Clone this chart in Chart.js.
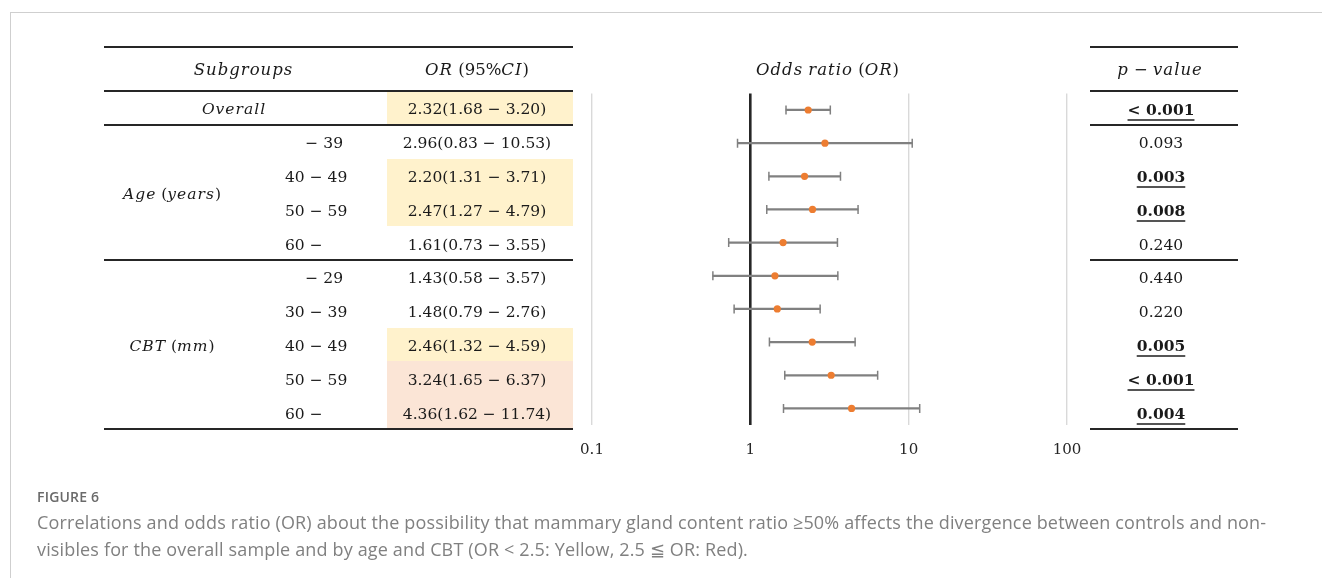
<!DOCTYPE html>
<html>
<head>
<meta charset="utf-8">
<script src="https://cdn.jsdelivr.net/npm/chart.js@4/dist/chart.umd.min.js"></script>
<style>
  html,body{margin:0;padding:0;background:#fff;}
  body{width:1322px;height:578px;overflow:hidden;position:relative;font-family:'DejaVu Serif',serif;color:#1a1a1a;}
  #frame{position:absolute;left:10px;top:12px;right:-2px;bottom:-2px;border-top:1px solid #cfcfcf;border-left:1px solid #cfcfcf;}
  #wrap{position:absolute;left:0;top:0;width:1322px;height:578px;}
  .cell{position:absolute;display:flex;align-items:center;white-space:pre;font-size:15.5px;}
  .cell > span{position:relative;top:1.5px;}
  .head{font-size:16.5px;}
  .cell i{font-style:italic;letter-spacing:1px;}
  .rule{position:absolute;height:2px;background:#262626;}
  .sig{font-weight:bold;text-decoration:underline;text-underline-offset:4px;text-decoration-thickness:1.5px;text-decoration-color:#555;}
  #caption{position:absolute;left:37px;top:485px;width:1280px;font-family:'Open Sans',sans-serif;color:#808080;}
  #figlabel{font-size:14px;font-weight:600;color:#6a6a6a;line-height:24px;letter-spacing:0.2px;}
  #captext{font-size:18px;line-height:27px;letter-spacing:0.15px;}
</style>
</head>
<body>
<div id="frame"></div>
<div id="wrap"><canvas id="c" width="1322" height="578"></canvas></div>
<div id="table"></div>
<div id="caption">
  <div id="figlabel">FIGURE 6</div>
  <div id="captext">Correlations and odds ratio (OR) about the possibility that mammary gland content ratio ≥50% affects the divergence between controls and non-<br>visibles for the overall sample and by age and CBT (OR &lt; 2.5: Yellow, 2.5 ≦ OR: Red).</div>
</div>
<script>
// ---------------- data ----------------
const rowKeys = ['overall','age-39','age40-49','age50-59','age60-','cbt-29','cbt30-39','cbt40-49','cbt50-59','cbt60-'];
const groupLabels = ['Overall', 'Age (years)', 'CBT (mm)'];
const groupRows = [1, 4, 5];
const subLabels = ['', '− 39', '40 − 49', '50 − 59', '60 −', '− 29', '30 − 39', '40 − 49', '50 − 59', '60 −'];
const orValues = [2.32, 2.96, 2.20, 2.47, 1.61, 1.43, 1.48, 2.46, 3.24, 4.36];
const ciLow    = [1.68, 0.83, 1.31, 1.27, 0.73, 0.58, 0.79, 1.32, 1.65, 1.62];
const ciHigh   = [3.20, 10.53, 3.71, 4.79, 3.55, 3.57, 2.76, 4.59, 6.37, 11.74];
const pValues  = ['< 0.001', '0.093', '0.003', '0.008', '0.240', '0.440', '0.220', '0.005', '< 0.001', '0.004'];
const pSignificant = [true, false, true, true, false, false, false, true, true, true];
const xTicks = [0.1, 1, 10, 100];
const headers = {subgroups: 'Subgroups', or: 'OR (95%CI)', plot: 'Odds ratio (OR)', p: 'p − value'};
const orThreshold = 2.5;

// ---------------- layout / style ----------------
const COL = {tLeft:104, tRight:573, orLeft:387, subLeft:285, subRight:343, pLeft:1090, pRight:1238};
const groupCenterX = [234, 172, 172];
const TOP_RULE = 47, HEAD_BOTTOM = 91, ROW_H = 33.8;
const YELLOW = '#fff2cc', RED = '#fbe5d6';

function mathify(s){
  return s.replace(/[A-Za-z]+/g, m => '<i>' + m + '</i>');
}
const T = document.getElementById('table');
function cell(left, width, top, height, html, justify, extra){
  const d = document.createElement('div');
  d.className = 'cell' + (extra ? ' ' + extra : '');
  d.style.left = left + 'px'; d.style.width = width + 'px';
  d.style.top = top + 'px'; d.style.height = height + 'px';
  d.style.justifyContent = justify || 'center';
  d.innerHTML = '<span>' + html + '</span>';
  T.appendChild(d);
  return d;
}
function rule(x1, x2, y){
  const d = document.createElement('div');
  d.className = 'rule';
  d.style.left = x1 + 'px'; d.style.width = (x2 - x1) + 'px'; d.style.top = (y - 1) + 'px';
  T.appendChild(d);
}
const rowTop = i => HEAD_BOTTOM + i * ROW_H;
const fmt = v => v.toFixed(2);

// highlight backgrounds
orValues.forEach((v, i) => {
  if (!pSignificant[i]) return;
  const d = cell(COL.orLeft, COL.tRight - COL.orLeft, rowTop(i), ROW_H, '', 'center');
  d.style.background = v < orThreshold ? YELLOW : RED;
});
// headers
const headTop = TOP_RULE, headH = HEAD_BOTTOM - TOP_RULE - 2;
cell(COL.tLeft, COL.orLeft - COL.tLeft - 4, headTop, headH, mathify(headers.subgroups), 'center', 'head');
cell(COL.orLeft, COL.tRight - COL.orLeft - 6, headTop, headH, mathify(headers.or), 'center', 'head');
cell(COL.pLeft, COL.pRight - COL.pLeft - 8, headTop, headH, mathify(headers.p), 'center', 'head');
cell(592, 1067 - 592 - 4, headTop, headH, mathify(headers.plot), 'center', 'head');
// rows
let start = 0;
groupLabels.forEach((g, gi) => {
  const n = groupRows[gi];
  const cx = groupCenterX[gi];
  cell(cx - 100, 200, rowTop(start), n * ROW_H, mathify(g), 'center');
  start += n;
});
subLabels.forEach((s, i) => {
  if (!s) return;
  cell(COL.subLeft - 20, COL.subRight - COL.subLeft + 20, rowTop(i), ROW_H, s, s.startsWith('−') ? 'flex-end' : 'flex-start');
  if (!s.startsWith('−')) T.lastChild.style.left = COL.subLeft + 'px';
});
orValues.forEach((v, i) => {
  cell(COL.orLeft, COL.tRight - COL.orLeft - 6, rowTop(i), ROW_H, fmt(v) + '(' + fmt(ciLow[i]) + ' − ' + fmt(ciHigh[i]) + ')', 'center');
});
pValues.forEach((p, i) => {
  const html = pSignificant[i] ? '<span class="sig">' + p.replace('<', '&lt;') + '</span>' : p;
  cell(COL.pLeft, COL.pRight - COL.pLeft - 6, rowTop(i), ROW_H, html, 'center');
});
// rules
const ruleYs = [TOP_RULE, HEAD_BOTTOM];
let acc = 0; groupRows.forEach(n => { acc += n; ruleYs.push(rowTop(acc)); });
ruleYs.forEach(y => { rule(COL.tLeft, COL.tRight, y); rule(COL.pLeft, COL.pRight, y); });

// ---------------- chart ----------------
const capData = [];
ciLow.forEach((l, i) => { capData.push({x: l, y: rowKeys[i]}); capData.push({x: ciHigh[i], y: rowKeys[i]}); });

new Chart(document.getElementById('c'), {
  type: 'bar',
  data: {
    labels: rowKeys,
    datasets: [
      {
        type: 'scatter',
        data: orValues.map((v, i) => ({x: v, y: rowKeys[i]})),
        backgroundColor: '#ed7d31', borderColor: '#ed7d31', borderWidth: 0,
        pointRadius: 3.6, order: 1
      },
      {
        type: 'scatter',
        data: capData,
        pointStyle: 'line', rotation: 90, pointRadius: 4.5,
        borderColor: '#808080', borderWidth: 1.5, order: 2
      },
      {
        type: 'bar',
        data: ciLow.map((l, i) => [l, ciHigh[i]]),
        backgroundColor: '#808080', borderWidth: 0, barThickness: 1.6, order: 3
      }
    ]
  },
  options: {
    responsive: false,
    animation: false,
    indexAxis: 'y',
    layout: {padding: {left: 592, right: 255, top: 93.4, bottom: 113}},
    plugins: {legend: {display: false}, tooltip: {enabled: false}},
    scales: {
      x: {
        type: 'logarithmic', min: 0.1, max: 100,
        afterBuildTicks: s => { s.ticks = xTicks.map(v => ({value: v})); },
        afterFit: s => { s.height = 40; },
        border: {display: false},
        grid: {
          drawTicks: false,
          color: c => (c.tick && c.tick.value === 1) ? '#262626' : '#d9d9d9',
          lineWidth: c => (c.tick && c.tick.value === 1) ? 2.6 : 1.4
        },
        ticks: {
          padding: 16, color: '#262626', autoSkip: false, maxRotation: 0,
          font: {family: 'DejaVu Serif', size: 15},
          callback: v => String(v)
        }
      },
      y: {type: 'category', labels: rowKeys, display: false, offset: true, grid: {display: false}}
    }
  }
});
</script>
</body>
</html>
